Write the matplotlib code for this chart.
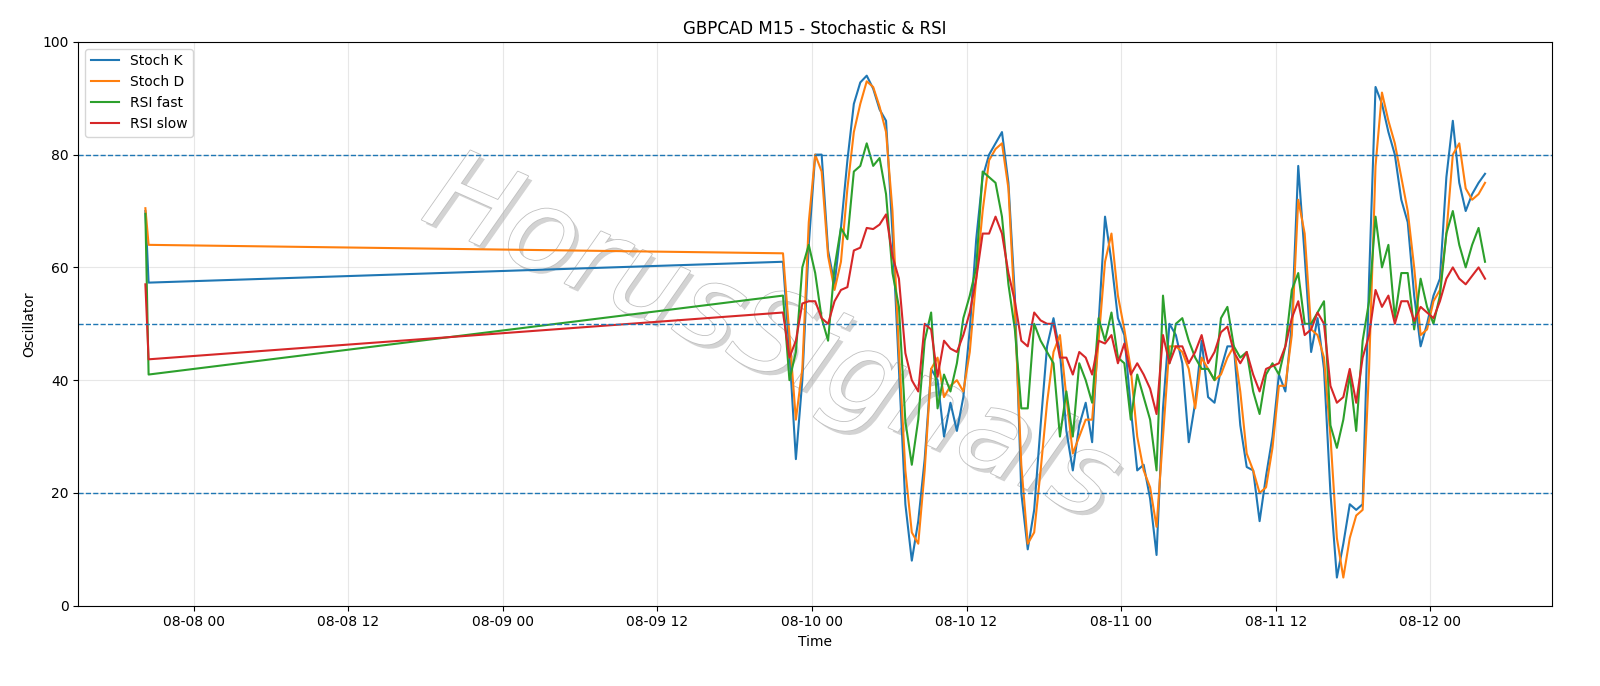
import numpy as np
import pandas as pd
import matplotlib.pyplot as plt
import matplotlib.dates as mdates
import matplotlib.patheffects as pe

# two early bars, then a continuous run at 30 min steps
early_times = ["2025-08-07 20:15", "2025-08-07 20:30"]
early_k = [70.0, 57.3]
early_d = [70.5, 64.0]
early_rf = [69.5, 41.0]
early_rs = [57.0, 43.7]

run_start = "2025-08-09 21:45"

stoch_k = [61, 45, 26, 40, 64, 80, 80, 63, 57, 67, 79, 89, 92.8, 94, 91.7, 88, 86, 66, 42, 18,
           8, 15, 26, 42, 40, 30, 36, 31, 37, 49, 65, 76, 80, 82, 84, 75, 55, 20, 10, 17,
           32, 46, 51, 45, 31, 24, 32, 36, 29, 50, 69, 61, 51, 48, 35, 24, 25, 19, 9, 35,
           50, 48, 43, 29, 36, 47, 37, 36, 42, 46, 46, 32, 24.6, 24, 15, 23, 30, 41, 38, 50,
           78, 62, 45, 51, 42, 20, 5, 11, 18, 17, 18, 58, 92, 89, 84, 80, 72, 68, 55, 46,
           50, 55, 58, 76, 86, 75, 70, 73, 75, 76.6]
stoch_d = [62.5, 48, 33, 42, 68, 80, 77, 62, 56, 61, 74, 84, 89, 93, 92, 88.5, 84, 70, 45, 24,
           13, 11, 24, 42, 44, 37, 39, 40, 38, 45, 58, 70, 79, 81, 82, 74, 52, 25, 11, 13,
           24, 36, 45, 48, 37, 27, 30, 33, 33, 47, 61, 66, 55, 49, 42, 30, 24, 21, 14, 30,
           46, 46, 45, 42, 35, 44, 42, 40, 41, 44, 46, 38, 27, 24, 20, 21, 28, 39, 39, 48,
           72, 66, 49, 48, 44, 30, 12, 5, 12, 16, 17, 42, 78, 91, 86, 82, 76, 70, 60, 48,
           49, 54, 56, 66, 80, 82, 74, 72, 73, 75]
rsi_fast = [55, 40, 45, 60, 64, 59, 51, 47, 60, 67, 65, 77, 78, 82, 78, 79.4, 73, 59, 53, 32.7,
            25, 33, 47, 52, 35, 41, 38, 43, 51, 55, 60, 77, 76, 75, 69, 57, 49, 35, 35, 50,
            47, 45, 43, 30, 38, 30, 43, 40, 36, 51, 47, 52, 44, 43, 33, 41, 37, 33, 24, 55,
            43, 50, 51, 47, 44, 42, 42, 40, 51, 53, 46, 44, 45, 38, 34, 41, 43, 41, 46, 56,
            59, 50, 50, 52, 54, 32, 28, 33, 41, 31, 47, 54, 69, 60, 64, 51, 59, 59, 49, 58,
            53, 50, 55, 66, 70, 64, 60, 64, 67, 61]
rsi_slow = [52, 44, 47, 53.6, 54, 54, 51, 50, 54, 56, 56.5, 63, 63.5, 67, 66.8, 67.6, 69.4, 62, 58, 44.8,
            40, 38, 50, 49, 40.6, 47, 45.6, 45, 48, 52, 58, 66, 66, 69, 66, 59, 54, 47, 46, 52,
            50.6, 50, 50, 44, 44, 41, 45, 44, 41, 47, 46.5, 48, 43, 46.5, 41, 43, 41, 38.5, 34, 48,
            43, 46, 46, 43, 45, 48, 43, 45, 48.5, 49.5, 45, 43, 45, 41, 38, 42, 42.5, 43, 46, 51,
            54, 48, 49, 52, 50, 39, 36, 37, 42, 36, 44, 48, 56, 53, 55, 50, 54, 54, 50.5, 53,
            52, 51, 54, 58, 60, 58, 57, 58.5, 60, 58]

run_times = pd.date_range(run_start, periods=len(stoch_k), freq="30min")
times = pd.DatetimeIndex(pd.to_datetime(early_times)).append(run_times)

k = early_k + stoch_k
d = early_d + stoch_d
rf = early_rf + rsi_fast
rs = early_rs + rsi_slow

fig = plt.figure(figsize=(16, 6.86), dpi=100)
ax = fig.add_axes([0.049, 0.117, 0.921, 0.822])

# watermark sits behind the lines
ax.text(0.47, 0.47, "HorusSignals", transform=ax.transAxes, fontsize=82,
        fontstyle="italic", color="white", rotation=-24,
        ha="center", va="center", zorder=0.5,
        path_effects=[pe.SimplePatchShadow(offset=(3, -3), shadow_rgbFace="#c8c8c8", alpha=0.8),
                      pe.withStroke(linewidth=1.2, foreground="#c0c0c0")])

ax.plot(times, k, color="#1f77b4", linewidth=1.5, label="Stoch K")
ax.plot(times, d, color="#ff7f0e", linewidth=1.5, label="Stoch D")
ax.plot(times, rf, color="#2ca02c", linewidth=1.5, label="RSI fast")
ax.plot(times, rs, color="#d62728", linewidth=1.5, label="RSI slow")

for lvl in (20, 50, 80):
    ax.axhline(lvl, linestyle="--", color="#1f77b4", linewidth=1.0)

ax.set_ylim(0, 100)
ax.grid(True, alpha=0.3)
ax.xaxis.set_major_locator(mdates.HourLocator(byhour=[0, 12]))
ax.xaxis.set_major_formatter(mdates.DateFormatter("%m-%d %H"))
ax.tick_params(labelsize=10)
ax.set_xlabel("Time", fontsize=10)
ax.set_ylabel("Oscillator", fontsize=10)
ax.set_title("GBPCAD M15 - Stochastic & RSI", fontsize=12)
ax.legend(loc="upper left", fontsize=10)

fig.savefig("out.png", dpi=100)
